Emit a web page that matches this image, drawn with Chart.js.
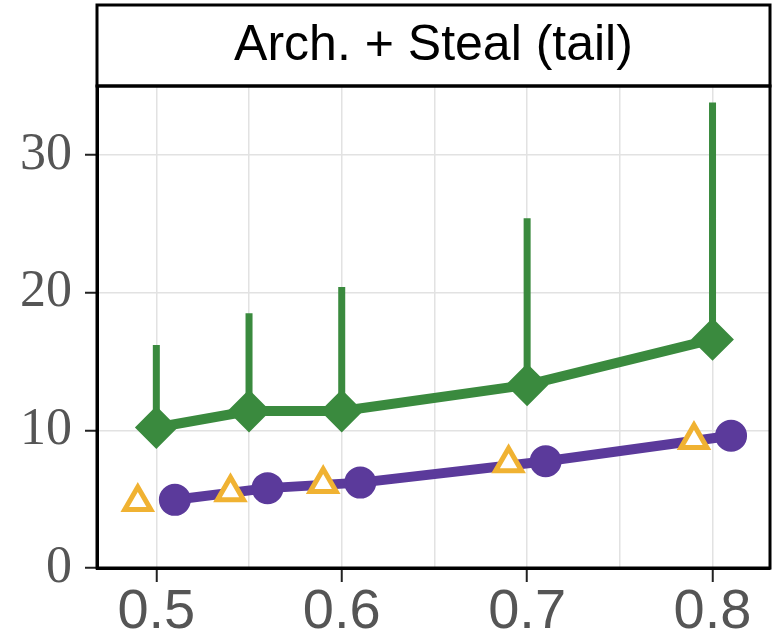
<!DOCTYPE html>
<html>
<head>
<meta charset="utf-8">
<script src="https://cdn.jsdelivr.net/npm/chart.js@4.4.1/dist/chart.umd.min.js"></script>
<style>
  html, body { margin: 0; padding: 0; background: #ffffff; overflow: hidden; }
  #wrap { width: 775px; height: 638px; position: relative; }
  #chart { display: block; }
</style>
</head>
<body>
<div id="wrap"><canvas id="chart"></canvas></div>
<script>
// Load levels and latencies for each configuration
const stealX      = [0.50, 0.55, 0.60, 0.70, 0.80];
const stealMedian = [10.2, 11.4, 11.4, 13.3, 16.6];
const stealTail   = [16.2, 18.5, 20.4, 25.4, 33.8];

const archX = [0.51, 0.56, 0.61, 0.71, 0.81];
const archY = [4.95, 5.8, 6.2, 7.75, 9.6];

const baseX = [0.49, 0.54, 0.59, 0.69, 0.79];
const baseY = [4.8, 5.5, 6.1, 7.6, 9.3];

const xTickLabels = ['0.5', '0.6', '0.7', '0.8'];
const yTickLabels = ['0', '10', '20', '30'];
const panelTitle = 'Arch. + Steal (tail)';

const GREEN = '#3a8a3e';
const PURPLE = '#5b3a9b';
const ORANGE = '#f0b232';

const toPoints = (xs, ys) => xs.map((x, i) => ({ x: x, y: ys[i] }));

// vertical whiskers from the median up to the tail value, broken by null gaps
const whiskers = [];
stealX.forEach((x, i) => {
  whiskers.push({ x: x, y: stealMedian[i] });
  whiskers.push({ x: x, y: stealTail[i] });
  whiskers.push({ x: x, y: null });
});

const isXMajor = v => xTickLabels.includes(String(Math.round(v * 100) / 100));
const isYMajor = v => yTickLabels.includes(String(Math.round(v)));

// frame around the plot area and the title strip
const framePlugin = {
  id: 'frame',
  afterDraw(chart) {
    const { ctx, chartArea } = chart;
    const tb = chart.titleBlock;
    ctx.save();
    ctx.strokeStyle = '#000';
    ctx.lineWidth = 3;
    ctx.strokeRect(chartArea.left, chartArea.top, chartArea.right - chartArea.left, chartArea.bottom - chartArea.top);
    if (tb) {
      ctx.strokeRect(chartArea.left, tb.top, chartArea.right - chartArea.left, chartArea.top - tb.top);
    }
    ctx.restore();
  }
};

new Chart(document.getElementById('chart'), {
  type: 'scatter',
  data: {
    datasets: [
      {
        label: 'Base',
        data: toPoints(baseX, baseY),
        showLine: false,
        pointStyle: 'triangle',
        pointRadius: 15,
        pointHoverRadius: 15,
        pointBackgroundColor: '#ffffff',
        pointBorderColor: ORANGE,
        pointBorderWidth: 5,
        borderColor: ORANGE,
        order: 1
      },
      {
        label: 'Arch.',
        data: toPoints(archX, archY),
        showLine: true,
        borderColor: PURPLE,
        borderWidth: 10,
        pointStyle: 'circle',
        pointRadius: 15,
        pointHoverRadius: 15,
        pointBackgroundColor: PURPLE,
        pointBorderColor: PURPLE,
        pointBorderWidth: 2,
        order: 2
      },
      {
        label: 'Arch. + Steal',
        data: toPoints(stealX, stealMedian),
        showLine: true,
        borderColor: GREEN,
        borderWidth: 10,
        pointStyle: 'rectRot',
        pointRadius: 20,
        pointHoverRadius: 20,
        pointBackgroundColor: GREEN,
        pointBorderColor: GREEN,
        pointBorderWidth: 2,
        order: 3
      },
      {
        label: 'Tail',
        data: whiskers,
        showLine: true,
        spanGaps: false,
        borderColor: GREEN,
        borderWidth: 7,
        borderCapStyle: 'butt',
        pointRadius: 0,
        pointHoverRadius: 0,
        order: 4
      }
    ]
  },
  options: {
    responsive: true,
    maintainAspectRatio: false,
    animation: false,
    layout: {
      autoPadding: false,
      padding: { top: 5, right: 5, left: 0, bottom: 0 }
    },
    plugins: {
      legend: { display: false },
      tooltip: { enabled: false },
      title: {
        display: true,
        text: panelTitle,
        fullSize: false,
        color: '#000',
        font: { family: 'Liberation Sans', size: 50, weight: 'normal', lineHeight: 1.0 },
        padding: { top: 16, bottom: 15 }
      }
    },
    scales: {
      x: {
        type: 'linear',
        min: 0.468,
        max: 0.831,
        afterFit(scale) {
          scale.height = 70;
          scale.paddingLeft = 0;
          scale.paddingRight = 0;
        },
        border: { display: true, color: '#000', width: 3 },
        grid: {
          color: '#e2e2e2',
          lineWidth: 1.5,
          tickLength: 14,
          tickWidth: 2,
          tickColor: ctx => (ctx.tick && isXMajor(ctx.tick.value)) ? '#222' : 'rgba(0,0,0,0)'
        },
        ticks: {
          stepSize: 0.05,
          includeBounds: false,
          autoSkip: false,
          maxRotation: 0,
          padding: 3,
          color: '#555',
          font: { family: "'Liberation Sans Narrow', 'Liberation Sans'", size: 56, lineHeight: 1.0 },
          callback: v => isXMajor(v) ? String(Math.round(v * 100) / 100) : ''
        }
      },
      y: {
        type: 'linear',
        min: 0,
        max: 35,
        afterFit(scale) {
          scale.width = 97;
        },
        border: { display: true, color: '#000', width: 3 },
        grid: {
          color: '#e2e2e2',
          lineWidth: 1.5,
          tickLength: 12,
          tickWidth: 2,
          tickColor: '#222'
        },
        ticks: {
          stepSize: 10,
          includeBounds: false,
          padding: 13,
          color: '#555',
          font: { family: "'Liberation Serif'", size: 52, lineHeight: 1.0 },
          callback: v => isYMajor(v) ? String(Math.round(v)) : ''
        }
      }
    }
  },
  plugins: [framePlugin]
});
</script>
</body>
</html>
